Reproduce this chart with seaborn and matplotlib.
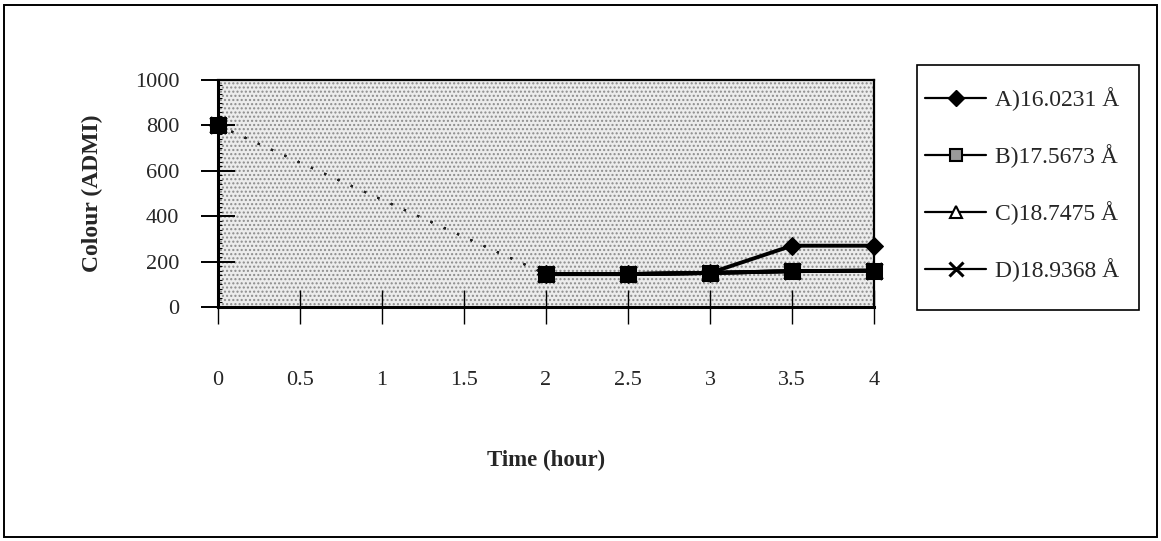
import matplotlib
matplotlib.use("Agg")
import matplotlib.pyplot as plt
from matplotlib.patches import Rectangle
from matplotlib.lines import Line2D
from matplotlib.ticker import MultipleLocator
import numpy as np
import pandas as pd
import seaborn as sns

# Colour (ADMI) measured over time for four basal spacings
time_hours = [0, 2, 2.5, 3, 3.5, 4]
series_labels = ["A)16.0231 Å", "B)17.5673 Å", "C)18.7475 Å", "D)18.9368 Å"]
colour_a = [800, 145, 145, 150, 270, 270]
colour_b = [800, 145, 145, 150, 158, 160]
colour_c = [800, 145, 145, 150, 158, 160]
colour_d = [800, 145, 145, 150, 158, 160]
x_ticks = [0, 0.5, 1, 1.5, 2, 2.5, 3, 3.5, 4]
x_tick_labels = ["0", "0.5", "1", "1.5", "2", "2.5", "3", "3.5", "4"]
y_ticks = [0, 200, 400, 600, 800, 1000]

sns.set_theme(style="white")
plt.rcParams["font.family"] = ["Liberation Serif", "DejaVu Serif"]
plt.rcParams["hatch.linewidth"] = 1.0

W, H = 1161, 541
fig = plt.figure(figsize=(W / 100, H / 100), dpi=100)
fig.patch.set_facecolor("white")


def fx(px):
    return px / W


def fy(py):
    return 1 - py / H


# outer chart frame
fig.patches.append(Rectangle((fx(4), fy(537)), fx(1157) - fx(4), fy(5) - fy(537),
                             transform=fig.transFigure, fill=False,
                             edgecolor="black", linewidth=1.4))

ax = fig.add_axes([fx(218), fy(307), fx(874) - fx(218), fy(80) - fy(307)])
ax.set_facecolor("#ececec")
ax.add_patch(Rectangle((0, 0), 1, 1, transform=ax.transAxes, facecolor="none",
                       edgecolor="#8c8c8c", hatch="....", linewidth=0, zorder=0))

data = pd.DataFrame({
    "time": time_hours * 4,
    "colour": colour_a + colour_b + colour_c + colour_d,
    "series": sum([[lab] * len(time_hours) for lab in series_labels], []),
})

marker_style = {
    series_labels[0]: dict(marker="D", markersize=9, markerfacecolor="black", markeredgecolor="black"),
    series_labels[1]: dict(marker="s", markersize=12, markerfacecolor="black", markeredgecolor="black"),
    series_labels[2]: dict(marker="^", markersize=10, markerfacecolor="black", markeredgecolor="black"),
    series_labels[3]: dict(marker="x", markersize=11, markeredgewidth=2.5, markeredgecolor="black"),
}
draw_order = [series_labels[3], series_labels[2], series_labels[0], series_labels[1]]
z = 3
for lab in draw_order:
    sub = data[data["series"] == lab]
    first = sub.iloc[:2]
    rest = sub.iloc[1:]
    # sparse dotted trace between the first two readings
    sns.lineplot(data=first, x="time", y="colour", ax=ax, color="#202020",
                 linestyle=(0, (1.0, 6)), linewidth=1.5, zorder=z, clip_on=False)
    sns.lineplot(data=rest, x="time", y="colour", ax=ax, color="black",
                 linewidth=2.8, zorder=z, clip_on=False)
    sns.lineplot(data=sub, x="time", y="colour", ax=ax, color="black",
                 linestyle="none", zorder=z + 1, clip_on=False, **marker_style[lab])
    z += 2

if ax.get_legend() is not None:
    ax.get_legend().remove()

ax.set_xlim(0, 4)
ax.set_ylim(0, 1000)
ax.set_xticks(x_ticks)
ax.set_xticklabels(x_tick_labels)
ax.set_yticks(y_ticks)
ax.yaxis.set_minor_locator(MultipleLocator(20))
ax.tick_params(axis="x", which="major", direction="inout", length=24, width=1.0,
               color="black", pad=34, labelsize=16)
ax.tick_params(axis="y", which="major", direction="inout", length=24, width=1.4,
               color="black", pad=16, labelsize=16)
ax.tick_params(axis="y", which="minor", direction="in", length=3, width=0.8,
               color="black", left=True)
ax.tick_params(bottom=True, left=True)

for side, sp in ax.spines.items():
    sp.set_visible(True)
    sp.set_color("black")
    sp.set_linewidth(1.6)
ax.spines["left"].set_linewidth(2.2)
ax.spines["bottom"].set_linewidth(2.2)

ax.set_xlabel("Time (hour)", fontsize=16.5, fontweight="bold")
ax.set_ylabel("Colour (ADMI)", fontsize=17, fontweight="bold")
ax.xaxis.set_label_coords(0.5, -0.63)
ax.yaxis.set_label_coords(-0.175, 0.5)

# legend box beside the plot
fig.patches.append(Rectangle((fx(917), fy(310)), fx(1139) - fx(917), fy(65) - fy(310),
                             transform=fig.transFigure, fill=False,
                             edgecolor="black", linewidth=1.2))
legend_markers = [
    dict(marker="D", markersize=8, markerfacecolor="black", markeredgecolor="black"),
    dict(marker="s", markersize=9, markerfacecolor="#9a9a9a", markeredgecolor="black", markeredgewidth=1.5),
    dict(marker="^", markersize=9, markerfacecolor="white", markeredgecolor="black", markeredgewidth=1.5),
    dict(marker="x", markersize=10, markeredgecolor="black", markeredgewidth=2.2),
]
handles = [Line2D([0], [0], color="black", linewidth=1.6, **m) for m in legend_markers]
fig.legend(handles, series_labels, loc="upper left",
           bbox_to_anchor=(fx(925), fy(87)), frameon=False, fontsize=17,
           handlelength=2.6, handletextpad=0.35, labelspacing=1.4,
           borderpad=0, borderaxespad=0)

fig.savefig("out.png", dpi=100, facecolor="white")
